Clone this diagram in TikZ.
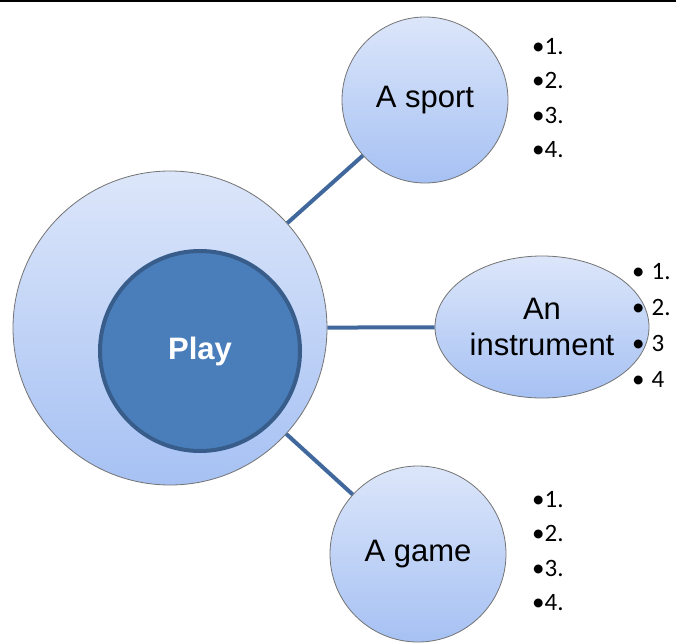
\documentclass[tikz,border=0pt]{standalone}
\usepackage{fontspec}
\setmainfont{Liberation Sans}
\newfontfamily\listfont{Carlito}
\usepackage{tikz}
\usetikzlibrary{shapes.geometric}
\usepackage{xcolor}

\definecolor{bubbletop}{HTML}{DCE6FA}
\definecolor{bubblebot}{HTML}{A6C1F3}
\definecolor{playfill}{HTML}{4A7EBB}
\definecolor{playline}{HTML}{385D8A}
\definecolor{linkcol}{HTML}{41689C}

\tikzset{
  bubble/.style={draw=gray!90!black, line width=0.8pt, top color=bubbletop, bottom color=bubblebot, inner sep=0pt, align=center, font=\fontsize{31}{36}\selectfont},
  link/.style={draw=linkcol, line width=4pt},
  items/.style={inner sep=0pt, align=left, anchor=north west, font=\listfont\fontsize{25}{34.5}\selectfont}
}

\begin{document}
\begin{tikzpicture}[x=1pt, y=-1pt]
  \useasboundingbox (0,0) rectangle (676,642);
  \draw[line width=1.5pt] (0,1) -- (676,1);

  \node[bubble, circle, minimum size=314pt] (outer) at (170,328) {};
  \node[circle, fill=playfill, draw=playline, line width=4pt, minimum size=200pt, text=white, font=\bfseries\fontsize{31}{36}\selectfont] (play) at (200,351) {Play};

  \node[bubble, circle, minimum size=166pt] (sport) at (425,100) {A sport};
  \node[bubble, ellipse, minimum width=214pt, minimum height=142pt] (instr) at (542,327) {An\\instrument};
  \node[bubble, circle, minimum size=176pt] (game) at (418,554) {A game};

  \draw[link] (outer) -- (sport);
  \draw[link] (outer) -- (instr);
  \draw[link] (outer) -- (game);

  \node[items] (sportlist) at (532,38) {\textbullet1.\\\textbullet2.\\\textbullet3.\\\textbullet4.};
  \node[items, font=\listfont\fontsize{25}{36}\selectfont] (instrlist) at (632,263) {\textbullet\hspace{7pt}1.\\\textbullet\hspace{7pt}2.\\\textbullet\hspace{7pt}3\\\textbullet\hspace{7pt}4};
  \node[items] (gamelist) at (532,491) {\textbullet1.\\\textbullet2.\\\textbullet3.\\\textbullet4.};
\end{tikzpicture}
\end{document}
